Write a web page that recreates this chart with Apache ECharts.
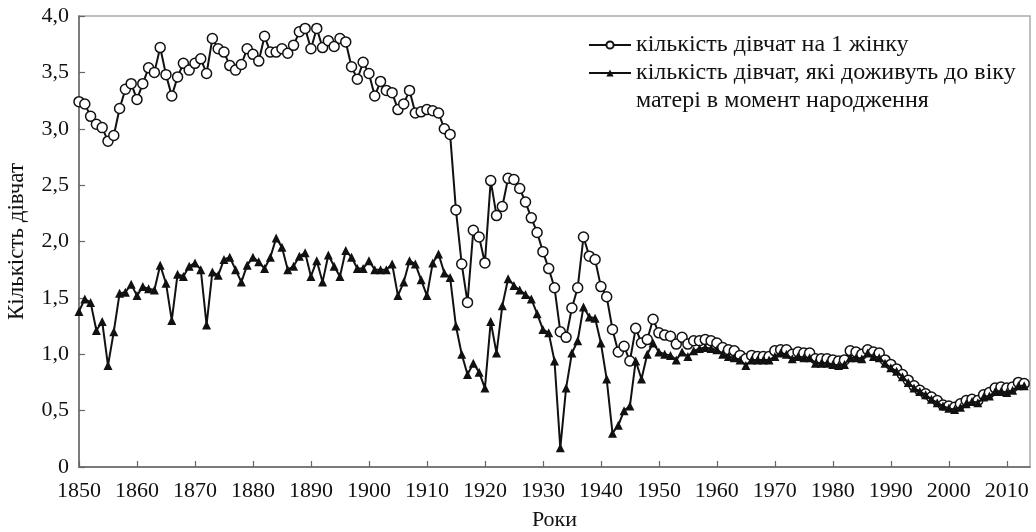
<!DOCTYPE html>
<html>
<head>
<meta charset="utf-8">
<script src="https://cdn.jsdelivr.net/npm/echarts@6/dist/echarts.min.js"></script>
<style>
  html, body { margin: 0; padding: 0; background: #fff; }
  #chart { width: 1036px; height: 532px; }
</style>
</head>
<body>
<div id="chart"></div>
<script>
const firstYear = 1850;

// кількість дівчат на 1 жінку, 1850..2013
const girlsPerWoman = [
  3.24, 3.22, 3.11, 3.04, 3.01, 2.89, 2.94, 3.18, 3.35, 3.40,
  3.26, 3.40, 3.54, 3.50, 3.72, 3.48, 3.29, 3.46, 3.58, 3.52,
  3.58, 3.62, 3.49, 3.80, 3.71, 3.68, 3.56, 3.52, 3.57, 3.71,
  3.66, 3.60, 3.82, 3.68, 3.68, 3.71, 3.67, 3.74, 3.86, 3.89,
  3.71, 3.89, 3.72, 3.78, 3.73, 3.80, 3.77, 3.55, 3.44, 3.59,
  3.49, 3.29, 3.42, 3.34, 3.32, 3.17, 3.22, 3.34, 3.14, 3.15,
  3.17, 3.16, 3.14, 3.00, 2.95, 2.28, 1.80, 1.46, 2.10, 2.04,
  1.81, 2.54, 2.23, 2.31, 2.56, 2.55, 2.47, 2.35, 2.21, 2.08,
  1.91, 1.76, 1.59, 1.20, 1.15, 1.41, 1.59, 2.04, 1.87, 1.84,
  1.60, 1.51, 1.22, 1.02, 1.07, 0.94, 1.23, 1.10, 1.13, 1.31,
  1.19, 1.17, 1.16, 1.09, 1.15, 1.09, 1.12, 1.12, 1.13, 1.12,
  1.10, 1.06, 1.04, 1.03, 0.99, 0.96, 0.99, 0.98, 0.98, 0.98,
  1.03, 1.04, 1.04, 1.00, 1.02, 1.01, 1.01, 0.96, 0.96, 0.96,
  0.95, 0.94, 0.95, 1.03, 1.02, 1.00, 1.04, 1.02, 1.01, 0.95,
  0.91, 0.87, 0.82, 0.77, 0.72, 0.68, 0.65, 0.62, 0.59, 0.55,
  0.54, 0.53, 0.56, 0.59, 0.60, 0.59, 0.64, 0.66, 0.70, 0.71,
  0.70, 0.71, 0.75, 0.74
];

// кількість дівчат, які доживуть до віку матері в момент народження, 1850..2013
const girlsSurviving = [
  1.38, 1.49, 1.46, 1.21, 1.29, 0.90, 1.20, 1.54, 1.55, 1.62,
  1.52, 1.60, 1.58, 1.57, 1.79, 1.63, 1.30, 1.71, 1.69, 1.78,
  1.81, 1.75, 1.26, 1.73, 1.70, 1.84, 1.86, 1.75, 1.64, 1.79,
  1.86, 1.82, 1.76, 1.86, 2.03, 1.95, 1.75, 1.78, 1.87, 1.90,
  1.69, 1.83, 1.64, 1.88, 1.78, 1.69, 1.92, 1.86, 1.76, 1.76,
  1.83, 1.75, 1.75, 1.75, 1.80, 1.52, 1.64, 1.83, 1.80, 1.66,
  1.52, 1.81, 1.89, 1.72, 1.68, 1.25, 1.00, 0.82, 0.92, 0.84,
  0.70, 1.29, 1.01, 1.43, 1.67, 1.61, 1.57, 1.53, 1.49, 1.36,
  1.22, 1.19, 0.94, 0.17, 0.70, 1.01, 1.12, 1.42, 1.33, 1.32,
  1.10, 0.78, 0.30, 0.37, 0.50, 0.54, 0.94, 0.78, 1.00, 1.10,
  1.02, 1.00, 0.99, 0.95, 1.02, 0.98, 1.03, 1.05, 1.06, 1.05,
  1.04, 1.00, 0.98, 0.97, 0.95, 0.90, 0.95, 0.95, 0.95, 0.95,
  0.98, 1.01, 1.00, 0.96, 0.98, 0.97, 0.97, 0.92, 0.92, 0.92,
  0.91, 0.90, 0.91, 0.97, 0.97, 0.96, 1.01, 0.98, 0.97, 0.92,
  0.88, 0.85, 0.80, 0.75, 0.70, 0.67, 0.64, 0.60, 0.57, 0.54,
  0.52, 0.51, 0.53, 0.56, 0.58, 0.57, 0.62, 0.63, 0.67, 0.67,
  0.66, 0.68, 0.72, 0.72
];

const seriesNames = [
  'кількість дівчат на 1 жінку',
  'кількість дівчат, які доживуть до віку'
];
const legendSecondLine = 'матері в момент народження';
const xAxisName = 'Роки';
const yAxisName = 'Кількість дівчат';

const toPairs = arr => arr.map((v, i) => [firstYear + i, v]);
const font = "'Liberation Serif', 'DejaVu Serif', serif";
const ink = '#111';
const legendText = { fontFamily: font, fontSize: 24, color: ink, lineHeight: 28 };

const chart = echarts.init(document.getElementById('chart'));
chart.setOption({
  animation: false,
  backgroundColor: '#fff',
  textStyle: { fontFamily: font, color: ink },
  grid: {
    left: 79, right: 6, top: 16, bottom: 65,
    outerBoundsMode: 'none',
    show: true, borderColor: '#aaa', borderWidth: 1.5
  },
  legend: [{
    data: [seriesNames[0]],
    left: 588, top: 31, padding: 0,
    itemWidth: 42, itemHeight: 9, itemGap: 0,
    textStyle: legendText
  }, {
    data: [seriesNames[1]],
    // empty first line keeps the icon level with the first text line
    formatter: name => '\n' + name + '\n' + legendSecondLine,
    left: 588, top: 31, padding: 0,
    itemWidth: 42, itemHeight: 9, itemGap: 0,
    textStyle: legendText
  }],
  xAxis: {
    type: 'value',
    min: 1850, max: 2014, interval: 10,
    name: xAxisName, nameLocation: 'middle', nameGap: 42,
    nameTextStyle: { fontFamily: font, fontSize: 22, color: ink },
    axisLine: { lineStyle: { color: '#666', width: 1.5 } },
    axisTick: { inside: true, length: 6, lineStyle: { color: '#666', width: 1.2 } },
    axisLabel: { margin: 13, fontFamily: font, fontSize: 22, color: ink, showMaxLabel: false,
      formatter: v => String(v) },
    splitLine: { show: false }
  },
  yAxis: {
    type: 'value',
    min: 0, max: 4, interval: 0.5,
    name: yAxisName, nameLocation: 'middle', nameGap: 51,
    nameTextStyle: { fontFamily: font, fontSize: 23, color: ink },
    axisLine: { show: true, lineStyle: { color: '#666', width: 1.5 } },
    axisTick: { show: true, inside: true, length: 6, lineStyle: { color: '#666', width: 1.2 } },
    axisLabel: { margin: 10, fontFamily: font, fontSize: 22, color: ink,
      formatter: v => v === 0 ? '0' : v.toFixed(1).replace('.', ',') },
    splitLine: { show: false }
  },
  series: [{
    name: seriesNames[0],
    type: 'line',
    data: toPairs(girlsPerWoman),
    symbol: 'circle',
    symbolSize: 10,
    showAllSymbol: true,
    itemStyle: { color: '#fff', borderColor: ink, borderWidth: 1.5 },
    lineStyle: { color: ink, width: 2 },
    z: 2
  }, {
    name: seriesNames[1],
    type: 'line',
    data: toPairs(girlsSurviving),
    symbol: 'triangle',
    symbolSize: 9,
    showAllSymbol: true,
    itemStyle: { color: ink },
    lineStyle: { color: ink, width: 2 },
    z: 3
  }]
});
window.addEventListener('resize', () => chart.resize());
</script>
</body>
</html>
